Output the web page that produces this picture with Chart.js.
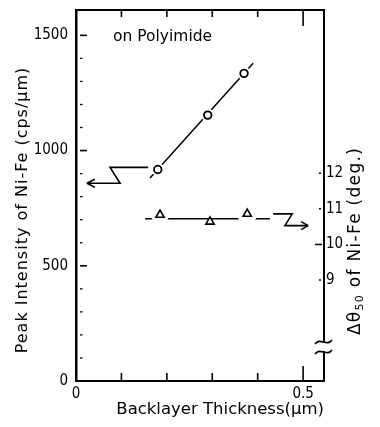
<!DOCTYPE html>
<html><head><meta charset="utf-8">
<script src="https://cdn.jsdelivr.net/npm/chart.js@4"></script>
<style>html,body{margin:0;padding:0;background:#fff}canvas{display:block}</style>
</head><body>
<canvas id="c" width="380" height="427"></canvas>
<script>
// ---- data ----
const thicknessCircles = [0.18, 0.29, 0.37];          // µm
const peakIntensity = [918, 1154, 1335];              // cps/µm
const thicknessTriangles = [0.185, 0.295, 0.377];     // µm
const deltaTheta50 = [10.83, 10.64, 10.86];           // deg.
const intensityFitX = [0.163, 0.39];
const intensityFitY = [881, 1379];
const thetaFitX = [0.152, 0.427];
const thetaFitY = [10.72, 10.72];
const leftPointerX = [0.159, 0.075, 0.097, 0.024];
const leftPointerY = [927, 927, 858, 858];
const rightPointerX = [0.434, 0.476, 0.460, 0.511];
const rightPointerY = [10.86, 10.86, 10.53, 10.53];
const xTickValues = [0, 0.5];
const xMinorTicks = [0.1, 0.2, 0.3, 0.4, 0.5];
const yTickValues = [0, 500, 1000, 1500];
const yMinorTicks = [100,200,300,400,600,700,800,900,1100,1200,1300,1400];
const y2TickValues = [9, 10, 11, 12];

const xTitle = 'Backlayer Thickness(\u00b5m)';
const yTitle = 'Peak Intensity of Ni-Fe (cps/\u00b5m)';
const y2TitleParts = ['\u0394\u03b8', '50', ' of Ni-Fe (deg.)'];
const noteText = 'on Polyimide';

const pts = (xs, ys) => xs.map((x, i) => ({x, y: ys[i]}));
const tickFont = {family: "'DejaVu Sans Condensed','DejaVu Sans',sans-serif", size: 15};
const titleFamily = "'DejaVu Sans',sans-serif";

const decor = {
  id: 'decor',
  afterDraw(chart) {
    const {ctx, chartArea: a, scales: {x, y, y2}} = chart;
    const seg = (x1, y1, x2, y2_) => { ctx.beginPath(); ctx.moveTo(x1, y1); ctx.lineTo(x2, y2_); ctx.stroke(); };
    ctx.save();
    ctx.strokeStyle = '#000'; ctx.fillStyle = '#000';
    // top frame line
    ctx.lineWidth = 2; seg(a.left, a.top, a.right, a.top);
    // x ticks (bottom + top, inward)
    ctx.lineWidth = 1.6;
    xMinorTicks.forEach(v => {
      const p = x.getPixelForValue(v);
      seg(p, a.bottom, p, a.bottom - (v === 0.5 ? 15 : 8));
      seg(p, a.top, p, a.top + (v === 0.5 ? 16 : 7));
    });
    // left ticks
    yTickValues.filter(v => v > 0).forEach(v => { const p = y.getPixelForValue(v); seg(a.left + 4, p, a.left + 11, p); });
    ctx.lineWidth = 1.3;
    yMinorTicks.forEach(v => { const p = y.getPixelForValue(v); seg(a.left + 4, p, a.left + 6.5, p); });
    // right ticks
    ctx.lineWidth = 1.5;
    y2TickValues.forEach(v => { const p = y2.getPixelForValue(v); if (v === 10) seg(a.right - 9, p, a.right - 2, p); else seg(a.right - 5, p, a.right - 3, p); });
    // axis break on right axis
    const by = 347;
    ctx.fillStyle = '#fff'; ctx.fillRect(a.right - 3, by - 4, 6, 8);
    ctx.strokeStyle = '#000'; ctx.lineWidth = 1.6;
    [by - 5, by + 5].forEach(cy => {
      ctx.beginPath(); ctx.moveTo(a.right - 9, cy + 2);
      ctx.bezierCurveTo(a.right - 4, cy - 5, a.right + 3, cy + 5, a.right + 8, cy - 2); ctx.stroke();
    });
    // arrowheads on pointer lines
    ctx.lineWidth = 1.5;
    const lt = {x: x.getPixelForValue(leftPointerX[3]), y: y.getPixelForValue(leftPointerY[3])};
    seg(lt.x, lt.y, lt.x + 8, lt.y - 4); seg(lt.x, lt.y, lt.x + 8, lt.y + 4);
    const rt = {x: x.getPixelForValue(rightPointerX[3]), y: y2.getPixelForValue(rightPointerY[3])};
    seg(rt.x, rt.y, rt.x - 7, rt.y - 4); seg(rt.x, rt.y, rt.x - 7, rt.y + 4);
    // note text
    ctx.fillStyle = '#000';
    ctx.font = `15.5px ${titleFamily}`; ctx.textBaseline = 'alphabetic'; ctx.textAlign = 'left';
    ctx.fillText(noteText, 113, 41);
    // left title (rotated)
    ctx.save();
    ctx.translate(23, 210); ctx.rotate(-Math.PI / 2);
    ctx.font = `16px ${titleFamily}`; ctx.letterSpacing = '1px';
    ctx.textAlign = 'center'; ctx.textBaseline = 'middle';
    ctx.fillText(yTitle, 0, 0);
    ctx.restore();
    // right title (rotated, bottom to top)
    ctx.save();
    ctx.translate(356, 241); ctx.rotate(-Math.PI / 2);
    ctx.textBaseline = 'middle'; ctx.textAlign = 'left'; ctx.letterSpacing = '1.3px';
    const bigF = `17px ${titleFamily}`, subF = `11px ${titleFamily}`;
    ctx.font = bigF; const w0 = ctx.measureText(y2TitleParts[0]).width;
    ctx.font = subF; const w1 = ctx.measureText(y2TitleParts[1]).width;
    ctx.font = bigF; const w2 = ctx.measureText(y2TitleParts[2]).width;
    let sx = -(w0 + w1 + w2) / 2;
    ctx.font = bigF; ctx.fillText(y2TitleParts[0], sx, 0); sx += w0;
    ctx.font = subF; ctx.fillText(y2TitleParts[1], sx, 4); sx += w1;
    ctx.font = bigF; ctx.fillText(y2TitleParts[2], sx, 0);
    ctx.restore();
    ctx.restore();
  }
};

const zeroPad = s => { s.paddingTop = 0; s.paddingBottom = 0; s.paddingLeft = 0; s.paddingRight = 0; };

new Chart(document.getElementById('c'), {
  type: 'scatter',
  data: {
    datasets: [
      {data: pts(thicknessCircles, peakIntensity), yAxisID: 'y', pointStyle: 'circle', pointRadius: 3.8,
       borderColor: '#000', backgroundColor: '#fff', pointBorderWidth: 1.8, showLine: false, order: 0},
      {data: pts(thicknessTriangles, deltaTheta50), yAxisID: 'y2', pointStyle: 'triangle', pointRadius: 4.8,
       borderColor: '#000', backgroundColor: '#fff', pointBorderWidth: 1.6, showLine: false, order: 1},
      {data: pts(thicknessCircles, peakIntensity), yAxisID: 'y', pointStyle: 'circle', pointRadius: 6.5,
       borderColor: '#fff', backgroundColor: '#fff', pointBorderWidth: 0, showLine: false, order: 2},
      {data: pts(thicknessTriangles, deltaTheta50), yAxisID: 'y2', pointStyle: 'circle', pointRadius: [9, 0, 10],
       borderColor: '#fff', backgroundColor: '#fff', pointBorderWidth: 0, showLine: false, order: 3},
      {data: pts(intensityFitX, intensityFitY), yAxisID: 'y', showLine: true, pointRadius: 0,
       borderColor: '#000', borderWidth: 1.5, order: 4},
      {data: pts(thetaFitX, thetaFitY), yAxisID: 'y2', showLine: true, pointRadius: 0,
       borderColor: '#000', borderWidth: 1.5, order: 5},
      {data: pts(leftPointerX, leftPointerY), yAxisID: 'y', showLine: true, pointRadius: 0,
       borderColor: '#000', borderWidth: 1.6, order: 6},
      {data: pts(rightPointerX, rightPointerY), yAxisID: 'y2', showLine: true, pointRadius: 0,
       borderColor: '#000', borderWidth: 1.6, order: 7}
    ]
  },
  options: {
    responsive: false, animation: false, devicePixelRatio: 1,
    layout: {padding: {top: 6, left: 0, right: 0, bottom: 0}},
    plugins: {legend: {display: false}, tooltip: {enabled: false}},
    scales: {
      x: {type: 'linear', position: 'bottom', min: 0, max: 0.546,
          grid: {display: false, drawTicks: false}, border: {display: true, width: 2, color: '#000'},
          ticks: {font: tickFont, color: '#000', padding: 4, maxRotation: 0, callback: v => String(v)},
          afterBuildTicks: s => { s.ticks = xTickValues.map(v => ({value: v})); },
          afterFit: s => { s.height = 46; zeroPad(s); },
          title: {display: true, text: xTitle, align: 'end', color: '#000',
                  font: {family: titleFamily, size: 16.5}, padding: {top: 0, bottom: 7}}},
      y: {type: 'linear', position: 'left', min: 0, max: 1610,
          grid: {display: false, drawTicks: false}, border: {display: true, width: 2.5, color: '#000'},
          ticks: {font: tickFont, color: '#000', padding: 8, callback: v => String(v)},
          afterBuildTicks: s => { s.ticks = yTickValues.map(v => ({value: v})); },
          afterFit: s => { s.width = 76; zeroPad(s); }},
      y2: {type: 'linear', position: 'right', min: 6.167, max: 16.583,
           grid: {display: false, drawTicks: false}, border: {display: true, width: 2, color: '#000'},
           ticks: {font: tickFont, color: '#000', padding: 2, callback: v => String(v)},
           afterBuildTicks: s => { s.ticks = y2TickValues.map(v => ({value: v})); },
           afterFit: s => { s.width = 56; zeroPad(s); }}
    }
  },
  plugins: [decor]
});
</script>
</body></html>
